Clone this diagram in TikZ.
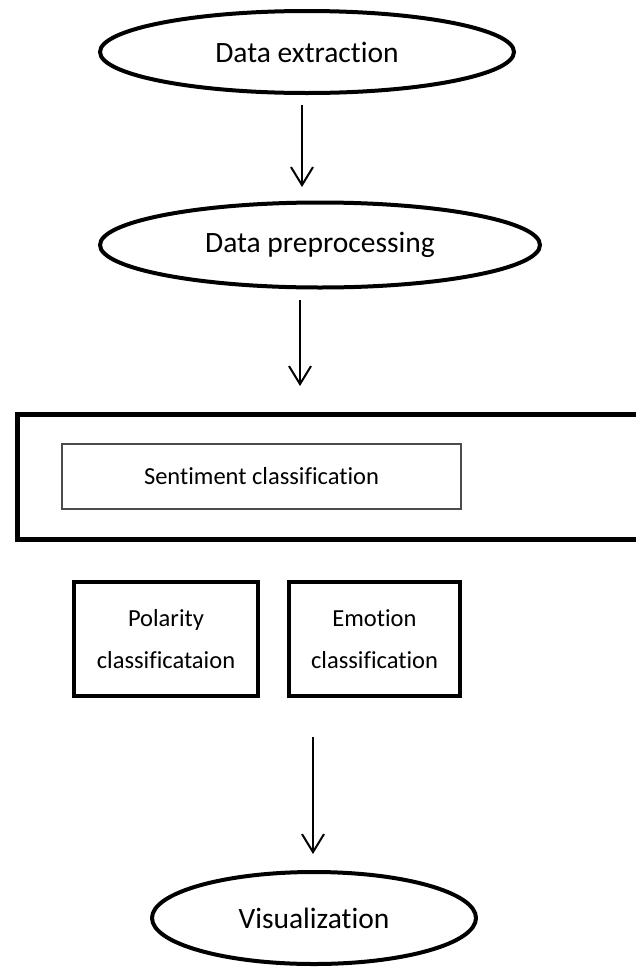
\documentclass[tikz,border=0pt]{standalone}
\usepackage{fontspec}
\setmainfont{Carlito}[Ligatures=NoCommon]
\usetikzlibrary{shapes.geometric,arrows.meta}
\begin{document}
\begin{tikzpicture}[x=1pt,y=-1pt,
  oval/.style={ellipse, draw, line width=4pt, inner sep=0pt, font=\fontsize{29.5}{36}\selectfont},
  thickbox/.style={draw, line width=4pt, inner sep=0pt, align=center, font=\fontsize{24.5}{42}\selectfont},
  thinbox/.style={draw=black!70, line width=1.3pt, inner sep=0pt, font=\fontsize{24.5}{30}\selectfont},
  arr/.style={line width=2pt, -{Straight Barb[length=18pt, width=22pt, line width=2pt]}}]
\useasboundingbox (0,0) rectangle (636,967);
\clip (0,0) rectangle (636,967);
\node[oval, minimum width=414pt, minimum height=82pt] (e1) at (307,52) {Data extraction};
\node[oval, minimum width=440pt, minimum height=85pt] (e2) at (320,245) {Data preprocessing};
\node[draw, line width=5pt, minimum width=640pt, minimum height=125pt, inner sep=0pt, anchor=north west] (big) at (15,412) {};
\node[thinbox, minimum width=399pt, minimum height=65pt] (sent) at (261.5,476.5) {Sentiment classification};
\node[thickbox, minimum width=184pt, minimum height=114pt] (pol) at (166,639) {Polarity\\classificataion};
\node[thickbox, minimum width=171pt, minimum height=114pt] (emo) at (374.5,639) {Emotion\\classification};
\node[oval, minimum width=324pt, minimum height=92pt] (e4) at (314,918) {Visualization};
\coordinate (a1s) at (302,105);
\coordinate (a1e) at (302,187);
\coordinate (a2s) at (300,300);
\coordinate (a2e) at (300,386);
\coordinate (a3s) at (313,737);
\coordinate (a3e) at (313,854);
\draw[arr] (a1s) -- (a1e);
\draw[arr] (a2s) -- (a2e);
\draw[arr] (a3s) -- (a3e);
\end{tikzpicture}
\end{document}
